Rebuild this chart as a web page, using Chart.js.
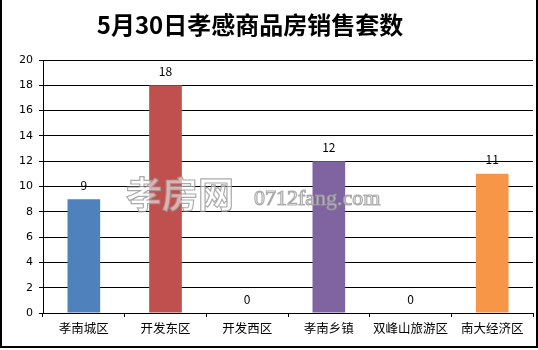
<!DOCTYPE html>
<html><head><meta charset="utf-8">
<script src="https://cdn.jsdelivr.net/npm/chart.js@4/dist/chart.umd.min.js"></script>
<style>html,body{margin:0;padding:0;background:#fff}#wrap{width:538px;height:350px;position:relative}</style>
</head><body><div id="wrap"><canvas id="c" width="538" height="350"></canvas></div>
<script>
const titleText = "5月30日孝感商品房销售套数";
const categories = ["孝南城区","开发东区","开发西区","孝南乡镇","双峰山旅游区","南大经济区"];
const values = [9, 18, 0, 12, 0, 11];
const barColors = ["#4F81BD","#C0504D","#9BBB59","#8064A2","#4BACC6","#F79646"];
const yTicks = [0,2,4,6,8,10,12,14,16,18,20];

const CJK = '"Noto Sans CJK SC", "Noto Sans", sans-serif';

const deco = {
  id: 'deco',
  afterDatasetsDraw(chart) {
    const ctx = chart.ctx;
    const meta = chart.getDatasetMeta(0);
    ctx.save();
    // value labels
    ctx.fillStyle = '#000';
    ctx.font = '12px ' + CJK;
    ctx.textAlign = 'center';
    ctx.textBaseline = 'middle';
    meta.data.forEach((bar, i) => {
      ctx.fillText(String(values[i]), bar.x, bar.y - 14);
    });
    // watermark
    ctx.lineWidth = 1.2;
    ctx.strokeStyle = 'rgba(150,150,150,0.8)';
    ctx.fillStyle = 'rgba(255,255,255,0.55)';
    ctx.textAlign = 'left';
    ctx.textBaseline = 'alphabetic';
    ctx.font = 'bold 36px ' + CJK;
    ctx.fillText('孝房网', 126, 208);
    ctx.strokeText('孝房网', 126, 208);
    ctx.font = '22px "Liberation Serif", serif';
    ctx.fillText('0712fang.com', 254, 205);
    ctx.strokeText('0712fang.com', 254, 205);
    ctx.restore();
  },
  afterDraw(chart) {
    const ctx = chart.ctx;
    ctx.save();
    // title
    ctx.fillStyle = '#000';
    ctx.font = 'bold 24px ' + CJK;
    ctx.textAlign = 'center';
    ctx.textBaseline = 'middle';
    ctx.fillText(titleText, 250, 25);
    // outer border
    ctx.fillStyle = '#000';
    ctx.fillRect(0, 0, 2, 348);
    ctx.fillRect(536, 0, 2, 348);
    ctx.fillRect(0, 346, 538, 2);
    ctx.restore();
  }
};

new Chart(document.getElementById('c'), {
  type: 'bar',
  data: {
    labels: categories,
    datasets: [{
      data: values,
      backgroundColor: barColors,
      borderWidth: 0,
      categoryPercentage: 1,
      barPercentage: 0.4
    }]
  },
  options: {
    responsive: false,
    animation: false,
    devicePixelRatio: 1,
    layout: { padding: { left: 0, right: 5, top: 60, bottom: 0 } },
    plugins: { legend: { display: false }, tooltip: { enabled: false }, title: { display: false } },
    scales: {
      x: {
        afterFit(s) { s.height = 37; },
        grid: { display: true, drawOnChartArea: false, drawTicks: true, tickLength: 4, color: '#000', offset: true },
        border: { display: true, color: '#000', width: 1 },
        ticks: { color: '#000', font: { family: CJK, size: 12.5 }, padding: 4, maxRotation: 0, autoSkip: false }
      },
      y: {
        min: 0, max: 20,
        afterFit(s) { s.width = 43; },
        afterBuildTicks(s) { s.ticks = yTicks.map(v => ({ value: v })); },
        grid: { color: '#000', lineWidth: 1, drawTicks: true, tickLength: 4 },
        border: { display: true, color: '#000', width: 1 },
        ticks: { color: '#000', font: { family: '"DejaVu Sans", sans-serif', size: 11 }, padding: 6 }
      }
    }
  },
  plugins: [deco]
});
</script>
</body></html>
